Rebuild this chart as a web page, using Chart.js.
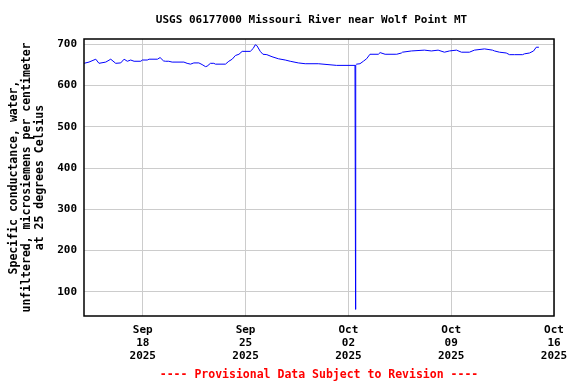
<!DOCTYPE html>
<html>
<head>
<meta charset="utf-8">
<script src="https://cdn.jsdelivr.net/npm/chart.js@4/dist/chart.umd.min.js"></script>
<style>
  html, body { margin: 0; padding: 0; background: #ffffff; }
  #wrap { width: 576px; height: 384px; }
</style>
</head>
<body>
<div id="wrap"><canvas id="c" width="576" height="384"></canvas></div>
<script>
// Days since 2025-09-14 00:00 (local station time)
const dayOffsets = [
  0.00, 0.34, 0.80, 1.02, 1.48, 1.82, 2.16, 2.50, 2.73, 2.95,
  3.18, 3.41, 3.87, 3.97, 4.31, 4.43, 5.00, 5.18, 5.41, 5.54,
  5.77, 6.00, 6.80, 7.02, 7.25, 7.48, 7.82, 8.04, 8.27, 8.38,
  8.61, 8.84, 8.95, 9.63, 9.86, 10.09, 10.31, 10.55, 10.77, 11.32,
  11.52, 11.66, 11.77, 12.00, 12.18, 12.45, 12.80, 13.24, 13.70, 14.04,
  14.59, 15.06, 15.95, 17.20, 18.45, 18.49, 18.50, 18.56, 18.79, 19.02,
  19.24, 19.47, 20.04, 20.16, 20.50, 21.18, 21.29, 21.61, 21.68, 22.29,
  23.18, 23.65, 24.11, 24.54, 24.88, 25.36, 25.70, 26.24, 26.58, 27.27,
  27.81, 27.95, 28.29, 28.75, 28.97, 29.31, 29.86, 29.99, 30.33, 30.61,
  30.79, 30.97
];
// Specific conductance, uS/cm at 25 degC
const conductance = [
  654, 657, 664, 654, 657, 664, 654, 655, 664, 659,
  662, 659, 659, 662, 662, 664, 664, 668, 660, 659,
  659, 657, 657, 654, 652, 655, 655, 651, 646, 647,
  654, 654, 652, 652, 659, 664, 673, 676, 683, 683,
  690, 699, 697, 683, 676, 675, 670, 665, 662, 659,
  655, 653, 653, 649, 649, 57, 650, 652, 653, 659,
  665, 676, 676, 680, 676, 676, 676, 679, 681, 684,
  686, 684, 686, 681, 684, 686, 681, 681, 686, 689,
  686, 684, 681, 679, 675, 675, 675, 677, 679, 684,
  693, 693
];
const xTickDays = [4, 11, 18, 25, 32];
const xTickLabels = [
  ["Sep", "18", "2025"],
  ["Sep", "25", "2025"],
  ["Oct", "02", "2025"],
  ["Oct", "09", "2025"],
  ["Oct", "16", "2025"]
];
const yTickValues = [100, 200, 300, 400, 500, 600, 700];
const titleText = "USGS 06177000 Missouri River near Wolf Point MT";
const yAxisTitle = ["Specific conductance, water,", "unfiltered, microsiemens per centimeter", "at 25 degrees Celsius"];
const footerText = "---- Provisional Data Subject to Revision ----";

const FONT = "'DejaVu Sans Mono', 'Liberation Mono', monospace";

const points = dayOffsets.map((d, i) => ({ x: d, y: conductance[i] }));

const frameBox = {
  id: 'frameBox',
  afterDatasetsDraw(chart) {
    const a = chart.chartArea;
    const ctx = chart.ctx;
    ctx.save();
    ctx.strokeStyle = '#000000';
    ctx.lineWidth = 1.5;
    ctx.strokeRect(a.left, a.top, a.right - a.left, a.bottom - a.top);
    ctx.restore();
  }
};

const headTitle = {
  id: 'headTitle',
  afterDraw(chart) {
    const ctx = chart.ctx;
    ctx.save();
    ctx.fillStyle = '#000000';
    ctx.font = "bold 11px " + FONT;
    ctx.textAlign = 'center';
    ctx.textBaseline = 'middle';
    ctx.fillText(titleText, 311.5, 20);
    ctx.restore();
  }
};

new Chart(document.getElementById('c'), {
  type: 'line',
  data: {
    datasets: [{
      data: points,
      borderColor: '#0000ff',
      borderWidth: 1,
      pointRadius: 0,
      tension: 0,
      fill: false
    }]
  },
  options: {
    responsive: false,
    animation: false,
    devicePixelRatio: 1,
    layout: { padding: { left: 0, right: 22, top: 39, bottom: 0 } },
    plugins: {
      legend: { display: false },
      tooltip: { enabled: false },
      title: { display: false },
      subtitle: {
        display: true,
        position: 'bottom',
        text: footerText,
        fullSize: false,
        color: '#ff0000',
        font: { family: FONT, size: 11.5, weight: 'bold', lineHeight: 1.2 },
        padding: { top: 8.6, bottom: 1.6 }
      }
    },
    scales: {
      x: {
        type: 'linear',
        min: 0,
        max: 32,
        afterFit(scale) { scale.height = 44; },
        afterBuildTicks(scale) { scale.ticks = xTickDays.map(v => ({ value: v })); },
        grid: { color: '#cccccc', lineWidth: 1, drawTicks: false },
        border: { display: false },
        ticks: {
          autoSkip: false,
          maxRotation: 0,
          minRotation: 0,
          padding: 8,
          color: '#000000',
          font: { family: FONT, size: 11, weight: 'bold', lineHeight: 1.17 },
          callback(value) {
            const i = xTickDays.indexOf(value);
            return i >= 0 ? xTickLabels[i] : '';
          }
        }
      },
      y: {
        type: 'linear',
        min: 41,
        max: 713,
        afterFit(scale) { scale.width = 84; },
        afterBuildTicks(scale) { scale.ticks = yTickValues.map(v => ({ value: v })); },
        grid: { color: '#cccccc', lineWidth: 1, drawTicks: false },
        border: { display: false },
        ticks: {
          padding: 7,
          color: '#000000',
          font: { family: FONT, size: 11, weight: 'bold' }
        },
        title: {
          display: true,
          text: yAxisTitle,
          color: '#000000',
          font: { family: FONT, size: 11.5, weight: 'bold', lineHeight: 1.13 },
          padding: { top: 7.5, bottom: 0 }
        }
      }
    }
  },
  plugins: [frameBox, headTitle]
});
</script>
</body>
</html>
